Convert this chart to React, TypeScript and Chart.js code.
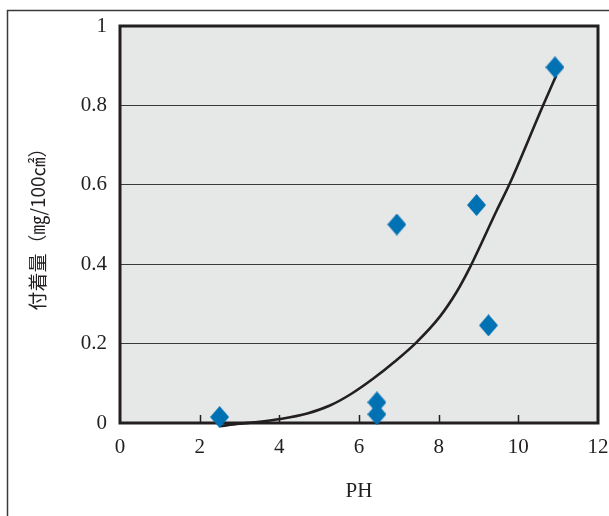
import { useEffect, useRef } from 'react';
import { Chart, registerables } from 'chart.js';

Chart.register(...registerables);

const phValues = [2.5, 6.45, 6.45, 6.95, 8.95, 9.25, 10.92];
const adhesionValues = [0.015, 0.052, 0.022, 0.5, 0.549, 0.246, 0.896];
const curvePh = [2.5, 3.0, 3.5, 4.02, 4.7, 5.27, 5.8, 6.36, 6.9, 7.43, 8.03, 8.45, 8.75, 9.46, 9.77, 10.62, 10.95];
const curveAdhesion = [-0.008, -0.002, 0.003, 0.01, 0.024, 0.044, 0.073, 0.112, 0.155, 0.202, 0.268, 0.33, 0.385, 0.536, 0.6, 0.8, 0.875];
const xTicks = [0, 2, 4, 6, 8, 10, 12];
const yTicks = [0, 0.2, 0.4, 0.6, 0.8, 1];
const xTitle = 'PH';
const yTitle = '付着量（㎎/100㎠）';

const INK = '#231f20';
const BLUE = '#0071b3';

function makeDiamond(w: number, h: number, color: string) {
  const c = document.createElement('canvas');
  c.width = w;
  c.height = h;
  const g = c.getContext('2d')!;
  g.fillStyle = color;
  g.beginPath();
  g.moveTo(w / 2, 0);
  g.lineTo(w, h / 2);
  g.lineTo(w / 2, h);
  g.lineTo(0, h / 2);
  g.closePath();
  g.fill();
  return c;
}

const framePlugin = {
  id: 'framePlugin',
  beforeDraw(chart: any) {
    const { ctx, chartArea: a } = chart;
    ctx.save();
    ctx.fillStyle = '#e6e8e8';
    ctx.fillRect(a.left, a.top, a.right - a.left, a.bottom - a.top);
    ctx.strokeStyle = '#3a3a3a';
    ctx.lineWidth = 1.5;
    ctx.beginPath();
    ctx.moveTo(7.5, 516);
    ctx.lineTo(7.5, 10.5);
    ctx.lineTo(609, 10.5);
    ctx.stroke();
    ctx.restore();
  },
  beforeDatasetsDraw(chart: any) {
    const { ctx, chartArea: a } = chart;
    const xs = chart.scales.x;
    ctx.save();
    ctx.strokeStyle = INK;
    ctx.lineWidth = 1.5;
    ctx.beginPath();
    xTicks.forEach((v) => {
      const px = Math.round(xs.getPixelForValue(v)) + 0.5;
      if (px > a.left + 2 && px < a.right - 2) {
        ctx.moveTo(px, a.bottom);
        ctx.lineTo(px, a.bottom - 8);
      }
    });
    ctx.stroke();
    ctx.lineWidth = 3;
    ctx.strokeRect(a.left, a.top, a.right - a.left, a.bottom - a.top);
    ctx.restore();
  },
};

export default function App() {
  const ref = useRef<HTMLCanvasElement | null>(null);

  useEffect(() => {
    if (!ref.current) return;
    const diamond = makeDiamond(19, 22, BLUE);
    const chart = new Chart(ref.current, {
      type: 'scatter',
      data: {
        datasets: [
          {
            type: 'scatter',
            data: phValues.map((x, i) => ({ x, y: adhesionValues[i] })),
            pointStyle: diamond as any,
            pointRadius: 10,
            backgroundColor: BLUE,
            borderColor: BLUE,
            clip: false as any,
            order: 0,
          },
          {
            type: 'line',
            data: curvePh.map((x, i) => ({ x, y: curveAdhesion[i] })),
            borderColor: INK,
            borderWidth: 2.6,
            pointRadius: 0,
            fill: false,
            cubicInterpolationMode: 'monotone',
            clip: false as any,
            order: 1,
          } as any,
        ],
      },
      options: {
        animation: false,
        responsive: true,
        maintainAspectRatio: false,
        layout: { padding: { top: 26, right: 11, left: 0, bottom: 0 } },
        plugins: { legend: { display: false }, tooltip: { enabled: false } },
        scales: {
          x: {
            type: 'linear',
            min: 0,
            max: 12,
            afterBuildTicks: (s: any) => {
              s.ticks = xTicks.map((v) => ({ value: v }));
            },
            afterFit: (s: any) => {
              s.height = 93;
              s.paddingRight = 0;
              s.paddingLeft = 0;
            },
            grid: { display: false, drawTicks: false },
            border: { display: false },
            ticks: {
              padding: 12,
              color: INK,
              font: { family: 'Liberation Serif', size: 21 },
              maxRotation: 0,
              callback: (v: any) => String(v),
            },
            title: {
              display: true,
              text: xTitle,
              color: INK,
              font: { family: 'Liberation Serif', size: 21 },
              padding: { top: 0, bottom: 12 },
            },
          },
          y: {
            type: 'linear',
            min: 0,
            max: 1,
            afterBuildTicks: (s: any) => {
              s.ticks = yTicks.map((v) => ({ value: v }));
            },
            afterFit: (s: any) => {
              s.width = 120;
              s.paddingTop = 0;
              s.paddingBottom = 0;
            },
            grid: { color: '#3a3a3a', lineWidth: 1, drawTicks: false },
            border: { display: false },
            ticks: {
              padding: 13,
              color: INK,
              font: { family: 'Liberation Serif', size: 21 },
              callback: (v: any) => String(Math.round(v * 10) / 10),
            },
            title: {
              display: true,
              text: yTitle,
              color: INK,
              font: { family: 'Noto Sans CJK JP', size: 19 },
              padding: { top: 26, bottom: 0 },
            },
          },
        },
      },
      plugins: [framePlugin],
    });
    return () => chart.destroy();
  }, []);

  return (
    <div style={{ position: 'absolute', left: 0, top: 0, width: 609, height: 516 }}>
      <canvas ref={ref} />
    </div>
  );
}
